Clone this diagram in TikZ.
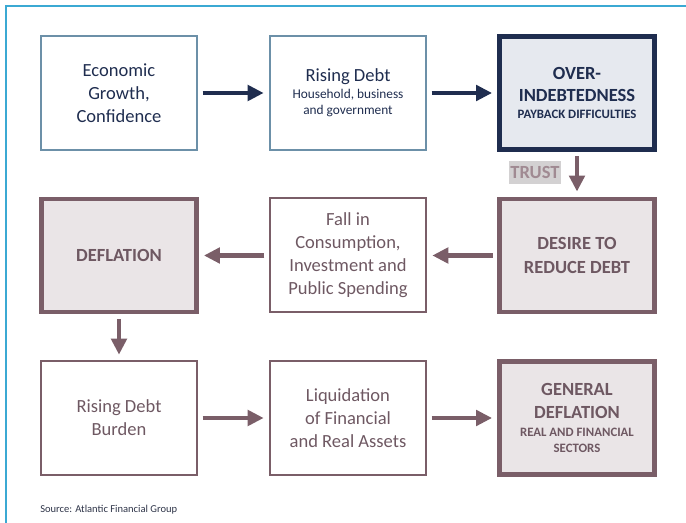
\documentclass[tikz,border=0pt]{standalone}
\usepackage{fontspec}
\setmainfont{Carlito}
\usetikzlibrary{arrows.meta}

\definecolor{navy}{HTML}{1F2D4F}
\definecolor{steel}{HTML}{6C90A8}
\definecolor{mauve}{HTML}{7A5E68}
\definecolor{mauvetext}{HTML}{6E5862}
\definecolor{mauvefill}{HTML}{EAE5E7}
\definecolor{bluefill}{HTML}{E6E9EF}
\definecolor{trustgray}{HTML}{D3D1D2}
\definecolor{trusttext}{HTML}{A08A92}
\definecolor{framecyan}{HTML}{3BA9D3}
\definecolor{sourcegray}{HTML}{2E3448}

\newcommand{\bigtxt}{\fontsize{13.9}{17.3}\selectfont}
\newcommand{\smalltxt}{\fontsize{10}{12}\selectfont}
\newcommand{\capstxt}{\fontsize{9.6}{12}\selectfont\bfseries}

\begin{document}
\begin{tikzpicture}[x=0.75pt,y=0.75pt,yscale=-1,xscale=1,
    box/.style={rectangle, minimum width=117pt, minimum height=85.5pt, inner sep=2pt, align=center, font=\bigtxt},
    bluebox/.style={box, draw=steel, line width=1.5pt, text=navy},
    navybox/.style={box, minimum width=116pt, minimum height=84.5pt, draw=navy, line width=3.4pt, fill=bluefill, text=navy},
    thinbox/.style={box, draw=mauve, line width=1.5pt, text=mauvetext},
    thickbox/.style={box, minimum width=116pt, minimum height=84.5pt, draw=mauve, line width=3.4pt, fill=mauvefill, text=mauvetext},
    navyarrow/.style={draw=navy, line width=3.4pt, -{Triangle[length=12pt,width=11.5pt]}, shorten <=3.5pt, shorten >=4pt},
    mauvearrow/.style={navyarrow, draw=mauve},
  ]
  \useasboundingbox (0,0) rectangle (686,523);

  %Straight Lines: frame
  \draw [framecyan, line width=2pt] (6,523) -- (6,6) -- (686,6) ;

  %Shape: Rectangle, first row
  \node [bluebox] (growth) at (119,93) {Economic\\Growth,\\Confidence};
  \node [bluebox] (debt) at (348,93) {Rising Debt\\[-4.5pt]{\smalltxt Household, business}\\[-5.3pt]{\smalltxt and government}};
  \node [navybox] (overdebt) at (577,93) {\textbf{OVER-}\\[-0.8pt]\textbf{INDEBTEDNESS}\\[-4pt]{\capstxt PAYBACK DIFFICULTIES}};

  %Shape: Rectangle, second row
  \node [thickbox] (deflation) at (119,255.5) {\textbf{DEFLATION}};
  \node [thinbox] (fallin) at (348,255.5) {Fall in\\Consumption,\\Investment and\\Public Spending};
  \node [thickbox] (reducedebt) at (577,255.5) {\textbf{DESIRE TO}\\\textbf{REDUCE DEBT}};

  %Shape: Rectangle, third row
  \node [thinbox] (burden) at (119,418) {Rising Debt\\Burden};
  \node [thinbox] (liquidation) at (348,418) {Liquidation\\of Financial\\and Real Assets};
  \node [thickbox] (general) at (577,418) {\textbf{GENERAL}\\\textbf{DEFLATION}\\[-4pt]{\capstxt REAL AND FINANCIAL}\\[-5.3pt]{\capstxt SECTORS}};

  % Text Node
  \node [fill=trustgray, text=trusttext, font=\bigtxt\bfseries, inner xsep=1pt, inner ysep=0pt, minimum height=17pt] (trust) at (535,172.5) {TRUST};
  % Text Node
  \node [anchor=west, inner sep=0pt, text=sourcegray, font=\fontsize{7.9}{9}\selectfont] (source) at (40,510) {Source: Atlantic Financial Group};

  %Straight Lines
  \draw [navyarrow] (growth) -- (debt) ;
  \draw [navyarrow] (debt) -- (overdebt) ;
  \draw [mauvearrow] (overdebt) -- (reducedebt) ;
  \draw [mauvearrow] (reducedebt) -- (fallin) ;
  \draw [mauvearrow] (fallin) -- (deflation) ;
  \draw [mauvearrow] (deflation) -- (burden) ;
  \draw [mauvearrow] (burden) -- (liquidation) ;
  \draw [mauvearrow] (liquidation) -- (general) ;

\end{tikzpicture}
\end{document}
